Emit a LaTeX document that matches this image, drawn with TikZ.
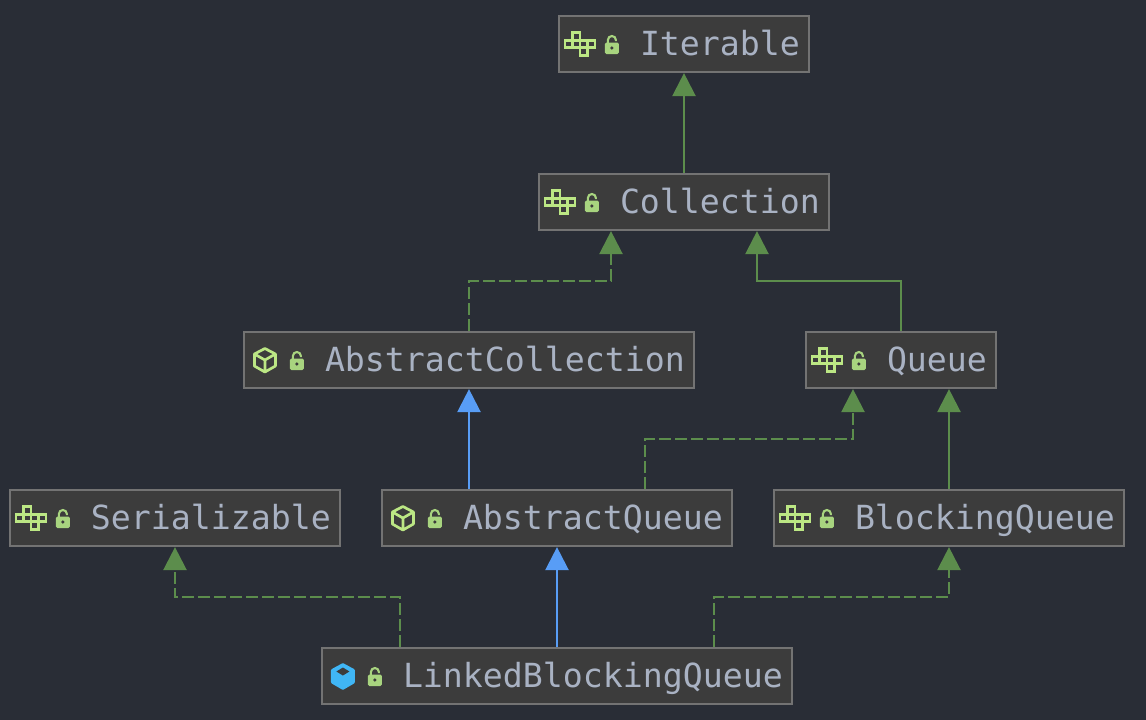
\documentclass[tikz,border=0pt]{standalone}
\usepackage{fontspec}
\setmonofont{DejaVu Sans Mono}
\usetikzlibrary{arrows.meta,calc}
\definecolor{bgc}{HTML}{292D36}
\definecolor{boxfill}{HTML}{3C3C3C}
\definecolor{boxline}{HTML}{737373}
\definecolor{txt}{HTML}{A9B2C3}
\definecolor{edgegreen}{HTML}{5C8D4C}
\definecolor{edgeblue}{HTML}{589DF6}
\definecolor{icong}{HTML}{BCE784}
\definecolor{lockg}{HTML}{A8D47F}
\definecolor{cubeb}{HTML}{40B6F5}
\newcommand{\boxlabel}[2]{\makebox[#1pt][l]{\hspace{81pt}#2}}
\tikzset{
  x=1pt,y=-1pt,
  classbox/.style={draw=boxline,fill=boxfill,line width=2.2pt,inner sep=0pt,minimum height=56pt,
    text height=28pt,text depth=5pt,
    text=txt,font=\ttfamily\fontsize{33.2}{36}\selectfont,anchor=center},
  solidedge/.style={edgegreen,line width=2.4pt,-{Triangle[width=23pt,length=23pt]}},
  dashedge/.style={edgegreen,line width=2.4pt,dash pattern=on 12pt off 4pt,
    -{Triangle[width=23pt,length=23pt]}},
  blueedge/.style={edgeblue,line width=2.4pt,-{Triangle[width=23pt,length=23pt]}},
  pics/lockicon/.style={code={
    \draw[lockg,line width=2.1pt] (50,-1) -- (50,-4) arc[start angle=180,end angle=0,x radius=4pt,y radius=4pt] -- (58,-3);
    \fill[lockg,rounded corners=1.5pt] (47,-1.5) rectangle (61,10);
    \fill[boxfill] (54,4) circle[radius=1.8pt];
  }},
  pics/ifaceicon/.style={code={
    \foreach \cx/\cy in {14.5/-11.25,7/-3.75,14.5/-3.75,22/-3.75,29.5/-3.75,22/3.75}{
      \draw[icong,line width=2.7pt] (\cx,\cy) rectangle ++(7.5,7.5);
    }
  }},
  pics/absicon/.style={code={
    \draw[icong,line width=2.7pt,line join=round]
      (22,-11.5) -- (32.5,-6) -- (32.5,6) -- (22,12) -- (11.5,6) -- (11.5,-6) -- cycle
      (11.5,-6) -- (22,0) -- (32.5,-6) (22,0) -- (22,12);
  }},
  pics/classicon/.style={code={
    \fill[cubeb,rounded corners=1pt] (22,-13) -- (34,-6.5) -- (34,7) -- (22,14) -- (10,7) -- (10,-6.5) -- cycle;
    \fill[boxfill] (22,-8.5) -- (28.5,-4.5) -- (22,-0.5) -- (15.5,-4.5) -- cycle;
  }},
}
\begin{document}
\begin{tikzpicture}
\fill[bgc] (0,0) rectangle (1146,720);
\useasboundingbox (0,0) rectangle (1146,720);
\node[classbox,minimum width=250pt] (Iter) at (684,44) {\boxlabel{250}{Iterable}};
\node[classbox,minimum width=290pt] (Coll) at (684,202) {\boxlabel{290}{Collection}};
\node[classbox,minimum width=450pt] (AbsColl) at (469,360) {\boxlabel{450}{AbstractCollection}};
\node[classbox,minimum width=190pt] (Queue) at (901,360) {\boxlabel{190}{Queue}};
\node[classbox,minimum width=330pt] (Ser) at (175,518) {\boxlabel{330}{Serializable}};
\node[classbox,minimum width=350pt] (AbsQ) at (557,518) {\boxlabel{350}{AbstractQueue}};
\node[classbox,minimum width=350pt] (BlockQ) at (949,518) {\boxlabel{350}{BlockingQueue}};
\node[classbox,minimum width=470pt] (Linked) at (557,676) {\boxlabel{470}{LinkedBlockingQueue}};
% icons
\foreach \n in {Iter,Coll,Queue,Ser,BlockQ}{\path (\n.west) pic {ifaceicon};}
\foreach \n in {AbsColl,AbsQ}{\path (\n.west) pic {absicon};}
\path (Linked.west) pic {classicon};
\foreach \n in {Iter,Coll,AbsColl,Queue,Ser,AbsQ,BlockQ,Linked}{\path (\n.west) pic {lockicon};}
% edges
\draw[solidedge] (Coll.north) -- (Iter.south);
\draw[dashedge] (AbsColl.north) -- ++(0,-50) -| ([xshift=-73pt]Coll.south);
\draw[solidedge] (Queue.north) -- ++(0,-50) -| ([xshift=73pt]Coll.south);
\draw[blueedge] ([xshift=-88pt]AbsQ.north) -- (AbsColl.south);
\draw[dashedge] ([xshift=88pt]AbsQ.north) -- ++(0,-50) -| ([xshift=-48pt]Queue.south);
\draw[solidedge] (BlockQ.north) -- ([xshift=48pt]Queue.south);
\draw[dashedge] ([xshift=-157pt]Linked.north) -- ++(0,-50) -| (Ser.south);
\draw[blueedge] (Linked.north) -- (AbsQ.south);
\draw[dashedge] ([xshift=157pt]Linked.north) -- ++(0,-50) -| (BlockQ.south);
\end{tikzpicture}
\end{document}
